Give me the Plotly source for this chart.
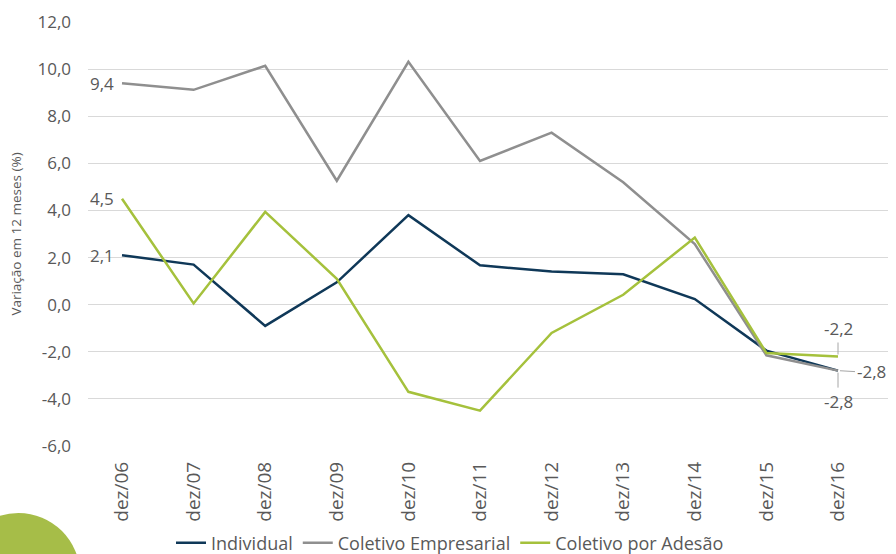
import plotly.graph_objects as go

# periods (dez of each year)
categorias = ["dez/06", "dez/07", "dez/08", "dez/09", "dez/10", "dez/11",
              "dez/12", "dez/13", "dez/14", "dez/15", "dez/16"]

# variação em 12 meses (%)
individual = [2.1, 1.7, -0.9, 0.95, 3.8, 1.67, 1.41, 1.29, 0.24, -1.95, -2.8]
coletivo_empresarial = [9.4, 9.12, 10.14, 5.26, 10.31, 6.1, 7.3, 5.2, 2.57, -2.15, -2.8]
coletivo_adesao = [4.5, 0.05, 3.94, 1.1, -3.7, -4.5, -1.2, 0.42, 2.85, -2.05, -2.2]

y_ticks = [-6, -4, -2, 0, 2, 4, 6, 8, 10, 12]

NAVY = "#0f3858"
GRAY = "#8f8f8f"
GREEN = "#a5c13c"
TXT = "#595959"
FONT = "Open Sans"


def fmt(v):
    return f"{v:.1f}".replace(".", ",")


fig = go.Figure()
series = [
    ("Individual", individual, NAVY),
    ("Coletivo Empresarial", coletivo_empresarial, GRAY),
    ("Coletivo por Adesão", coletivo_adesao, GREEN),
]
for name, vals, color in series:
    fig.add_trace(go.Scatter(
        x=categorias, y=vals, name=name, mode="lines",
        line=dict(color=color, width=2.5),
    ))

# first-point labels (to the left)
for vals in [coletivo_empresarial, coletivo_adesao, individual]:
    fig.add_annotation(
        x=categorias[0], y=vals[0], text=fmt(vals[0]), showarrow=False,
        xanchor="right", xshift=-6,
        font=dict(family=FONT, size=17, color=TXT),
    )

# last-point labels with leader lines
lead = dict(showarrow=True, arrowhead=0, arrowwidth=1, arrowcolor="#a6a6a6",
            font=dict(family=FONT, size=17, color=TXT), standoff=2)
fig.add_annotation(x=categorias[-1], y=coletivo_adesao[-1], text=fmt(coletivo_adesao[-1]),
                   ax=0, ay=-14, yanchor="bottom", **lead)
fig.add_annotation(x=categorias[-1], y=individual[-1], text=fmt(individual[-1]),
                   ax=17, ay=1, xanchor="left", **lead)
fig.add_annotation(x=categorias[-1], y=coletivo_empresarial[-1], text=fmt(coletivo_empresarial[-1]),
                   ax=0, ay=17, yanchor="top", **lead)

# decorative green circle bottom-left
fig.add_shape(type="circle", xref="paper", yref="paper",
              x0=-(88 + 43) / 800, x1=-(88 - 80) / 800,
              y0=-(574.5 - 446 + 61.5) / 424, y1=-(513 - 446) / 424,
              fillcolor="#a6bd48", line=dict(width=0), layer="above")

fig.update_layout(
    width=896, height=554,
    margin=dict(l=88, r=8, t=22, b=108, autoexpand=False),
    paper_bgcolor="white", plot_bgcolor="white",
    separators=",.",
    font=dict(family=FONT, color=TXT),
    showlegend=True,
    legend=dict(
        orientation="h", x=0.4525, xanchor="center", y=-0.229, yanchor="middle",
        font=dict(family=FONT, size=18, color=TXT),
        itemwidth=30, tracegroupgap=0,
    ),
)
fig.update_xaxes(
    type="category", tickangle=-90, showgrid=False, showline=False,
    ticks="", tickfont=dict(family=FONT, size=19, color=TXT), automargin=False,
    ticklabelstandoff=11,
)
fig.update_yaxes(
    range=[-6, 12], tickvals=y_ticks, ticktext=[fmt(v) for v in y_ticks],
    showgrid=True, gridcolor="#d9d9d9", gridwidth=1, zeroline=False,
    tickfont=dict(family=FONT, size=17, color=TXT), ticklabelstandoff=16,
    automargin=False,
    title=dict(text="Variação em 12 meses (%)", font=dict(family=FONT, size=13.5, color=TXT),
               standoff=12),
)

# drop the default page margin so the figure sits at the window origin
fig.write_html("out.html", config={"displayModeBar": False},
               post_script="document.body.style.margin='0px';")
